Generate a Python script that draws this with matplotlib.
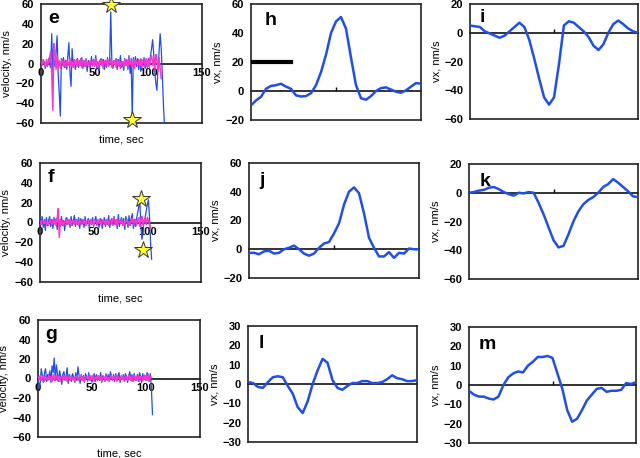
import matplotlib
matplotlib.use("Agg")
import matplotlib.pyplot as plt
import numpy as np

plt.rcParams['font.family'] = ['Liberation Sans', 'DejaVu Sans']
plt.rcParams['font.weight'] = 'bold'

BLUE = '#1f4fe6'
PINK = '#ff33cc'

# left column: velocity traces, one value per second
blue_e = [3, -2, 4, 1, -5, 2, -3, 5, -1, -4,
          30, -8, 5, -3, 10, 28, -10, -30, -53, 5,
          -2, 6, -4, 3, -6, 8, 21, -10, -23, 15,
          -3, 4, -6, 2, 5, -4, 3, -2, 6, -5,
          2, -3, 5, -8, 3, 1, -4, 7, -2, 4,
          -3, 8, -5, 2, -7, 3, 5, -2, 4, -6,
          3, -4, 6, -2, 4, 52, 2, -5, 3, -1,
          5, -6, 4, -3, 8, -4, 2, -7, 5, -2,
          4, -6, 8, -10, 5, -55, 6, -4, 7, -3,
          5, -6, 3, -8, 4, -3, 6, -5, 2, -4,
          5, -3, 8, 15, 24, 10, -8, -20, -27, -5,
          12, 30, 15, -10, -40, -62]
pink_e = [2, -1, 3, 0, -3, 4, -2, 1, 6, 12,
          -10, -47, 20, 12, -6, 8, -4, 3, -5, 2,
          4, -3, 2, -4, 3, 1, -2, 5, -3, 2,
          -4, 3, -1, 4, -3, 2, -2, 5, -4, 1,
          3, -3, 4, -2, 1, -4, 3, 2, -3, 4,
          -2, 5, -3, 1, -4, 3, -1, 4, -5, 2,
          3, -2, 4, -3, 1, 5, -4, 2, -1, 3,
          -4, 4, -2, 3, -5, 2, 1, -3, 4, -2,
          3, -4, 5, -1, 2, -3, 4, -5, 3, 1,
          -2, 4, -3, 5, -4, 2, 3, -2, 5, -3,
          3, -4, 6, 8, -2, 5, -6, 9, 4, -8,
          6, -5, -15]
stars_e_t = [65, 85]
stars_e_v = [59, -57]

blue_f = [4, -2, 6, -5, 3, -8, 5, -3, 2, 6,
          -4, 3, -6, 5, -2, 4, -7, 3, 1, -4,
          6, -3, 2, -8, 4, 5, -2, 3, -5, 6,
          -3, 2, 7, -4, 3, -2, 5, -6, 4, -1,
          3, -5, 6, -3, 2, 4, -6, 3, -2, 5,
          -4, 2, 6, -3, 1, -5, 4, 3, -6, 2,
          5, -4, 3, -2, 7, -5, 2, 4, -3, 6,
          -2, 3, -6, 8, -4, 2, 5, -3, 4, -7,
          6, 2, -5, 7, -3, 4, 9, -6, 3, -4,
          4, 10, 16, 20, -4, -17, -10, 2, 5, 12,
          18, 23, 6, -20, -37]
pink_f = [1, -2, 2, 0, -1, 3, -2, 1, -3, 2,
          1, -2, 3, -1, 2, -3, 4, 14, -15, 3,
          -2, 2, -3, 1, 3, -2, 2, -1, 3, -3,
          2, 1, -2, 3, -1, 2, -3, 2, 0, -2,
          3, -1, 2, -3, 1, 2, -2, 3, -1, 1,
          -3, 2, 1, -2, 3, -1, 2, -3, 1, 3,
          -2, 2, -1, 3, -3, 1, 2, -2, 3, 5,
          -2, 2, -3, 1, 2, -1, 3, -2, 1, -3,
          2, 3, -2, 1, -3, 2, 4, -2, 1, 3,
          -3, 2, 5, -4, 3, 6, -3, 2, 4, -2,
          5, 3, -3, -6]
stars_f_t = [94.5, 95.5]
stars_f_v = [24, -28]

blue_g = [2, -10, -5, 10, 3, -4, 6, 10, -3, 4,
          2, 8, -4, 13, 6, 21, -2, 14, 5, -3,
          8, 2, -6, 4, 7, -2, 3, 11, -5, 4,
          1, -3, 5, 2, -4, 6, -2, 12, 3, -5,
          4, -1, 3, -4, 5, 2, -3, 6, -2, 3,
          -4, 2, 5, -3, 4, -1, 3, -2, 6, -4,
          3, 1, -3, 5, -2, 4, -3, 7, 2, -1,
          4, -3, 5, -2, 3, 6, -4, 2, -1, 4,
          -3, 5, 2, -4, 3, 7, -2, 4, -3, 5,
          1, -2, 4, -3, 6, 2, -4, 5, -1, 3,
          -2, 6, 4, -3, 5, -10, -37]
pink_g = [2, -1, 3, -2, 1, 3, -3, 2, 0, -2,
          3, -1, 2, -3, 4, -2, 1, 3, -2, 2,
          -3, 1, 2, -2, 3, -1, 2, -3, 1, 2,
          -2, 3, -1, 1, -3, 2, 3, -2, 1, -1,
          3, -2, 2, -3, 1, 2, -1, 3, -2, 2,
          -1, 3, -3, 1, 2, -2, 3, -1, 2, -3,
          1, 2, -2, 3, -1, 1, -3, 2, 3, -2,
          2, -1, 3, -3, 2, 1, -2, 3, -1, 2,
          -3, 1, 2, -2, 3, -1, 2, -3, 1, 3,
          -2, 2, -1, 3, -3, 2, 1, -2, 4, -1,
          3, -2, 4, -3, 2, 1]

# middle / right columns: smoothed vx, 35 samples per panel
vx_h = [-10, -6.5, -4, 1.5, 3.5, 4, 5, 3, 1.5, -3, -3.8, -3.5, -1.5, 4, 13, 25, 40,
        48, 51, 43, 23, 4, -5, -6, -3.5, 0, 2, 2.5, 1, -0.5, -1.2, 0.5, 3, 5.5, 5]
vx_i = [5, 4.5, 4, 1, -0.5, -2, -3.5, -2, 1, 4, 7, 4, -5, -18, -32, -45, -50,
        -45, -22, 5, 8, 7, 4, 1, -3, -9, -12, -8, 0, 6, 8.5, 6, 3, 1, 0]
vx_j = [-2.5, -2.5, -3.5, -1.5, -1, -3, -2.5, 0, 1, 2.5, 0, -3, -4.5, -3, 1, 4, 5,
        11, 18, 31, 40, 43, 39, 25, 8, 1, -5, -5, -2, -6, -2.5, -3, 0.5, 0, 0]
vx_k = [0, 0.5, 1.5, 2, 3.5, 4, 2.5, 0.5, -1, -2, 0, -0.5, 0.5, 0, -7, -15, -24,
        -33, -38, -37, -29, -20, -13, -8, -5, -3, 0, 4, 6, 9.5, 7, 4, 1, -2.5, -3]
vx_l = [1, 0.5, -1.5, -2, 1, 3.5, 4, 3.5, -1, -5, -12, -15, -9, 0, 7, 13, 11,
        2, -2, -3, -1, 0.5, 0.5, 1.5, 1.5, 0.5, 0.5, 1, 2.5, 4.5, 3, 2.5, 1.5, 1.5, 2]
vx_m = [-3, -5, -6, -6, -7, -7.5, -6, 0, 4, 6, 7, 6.5, 10, 12, 14.5, 14.5, 15,
        14, 6, -2, -13, -19, -17.5, -13, -8, -5, -2, -1.5, -3.5, -3, -3, -2.5, 1, 0.5, 1.5]
scale_bar_x = [0, 8]
scale_bar_v = [20, 20]

fig = plt.figure(figsize=(6.4, 4.58), dpi=100)


def add_ax(l, t, r, b):
    return fig.add_axes([l / 640, 1 - b / 458, (r - l) / 640, (b - t) / 458])


def frame(ax, ylim, yticks, letter, lx, ly):
    ax.set_ylim(*ylim)
    ax.set_yticks(yticks)
    ax.set_xticks([])
    ax.tick_params(axis='y', length=0, pad=5, labelsize=8)
    for sp in ax.spines.values():
        sp.set_linewidth(1.2)
        sp.set_color('#222222')
    ax.text(lx, ly, letter, transform=ax.transAxes, fontsize=14,
            fontweight='bold', va='top', ha='left')
    # zero axis through the plot (Excel style)
    pos = (0 - ylim[0]) / (ylim[1] - ylim[0])
    sec = ax.secondary_xaxis(pos)
    sec.set_alignment('bottom')
    sec.spines['bottom'].set_linewidth(1.2)
    sec.spines['bottom'].set_color('#111111')
    return sec


# left column
left = [
    ((41, 4, 202, 123), blue_e, pink_e, (stars_e_t, stars_e_v), 'e'),
    ((40, 163, 201, 282), blue_f, pink_f, (stars_f_t, stars_f_v), 'f'),
    ((38, 320, 200, 437), blue_g, pink_g, None, 'g'),
]
for box, b, p, stars, letter in left:
    ax = add_ax(*box)
    ax.set_xlim(0, 150)
    ax.plot(np.arange(len(b)), b, color=BLUE, lw=0.9, zorder=3)
    ax.plot(np.arange(len(p)), p, color=PINK, lw=1.1, zorder=4)
    if stars:
        ax.plot(stars[0], stars[1], ls='none', marker='*', ms=13,
                mfc='#ffff33', mec='#333333', mew=0.7, clip_on=False, zorder=6)
    sec = frame(ax, (-60, 60), range(-60, 61, 20), letter, 0.045, 0.95)
    sec.set_xticks([0, 50, 100, 150])
    sec.tick_params(length=0, pad=3, labelsize=8)
    ax.set_ylabel('velocity, nm/s', fontsize=8, labelpad=2)
    ax.set_xlabel('time, sec', fontsize=8, labelpad=8)

# middle and right columns
panels = [
    ((251, 4, 421, 120), vx_h, (-20, 60), range(-20, 61, 20), 'h', 0.08, 0.93),
    ((470, 4, 638, 119), vx_i, (-60, 20), range(-60, 21, 20), 'i', 0.06, 0.96),
    ((249, 163, 419, 278), vx_j, (-20, 60), range(-20, 61, 20), 'j', 0.06, 0.92),
    ((469, 164, 638, 279), vx_k, (-60, 20), range(-60, 21, 20), 'k', 0.06, 0.92),
    ((248, 326, 417, 442), vx_l, (-30, 30), range(-30, 31, 10), 'l', 0.06, 0.92),
    ((469, 327, 636, 443), vx_m, (-30, 30), range(-30, 31, 10), 'm', 0.06, 0.92),
]
for box, v, ylim, yt, letter, lx, ly in panels:
    ax = add_ax(*box)
    x = np.arange(len(v))
    ax.set_xlim(0, len(v) - 1)
    ax.plot(x, v, color=BLUE, lw=1.8, zorder=3, solid_joinstyle='round')
    if letter == 'h':
        ax.plot(scale_bar_x, scale_bar_v, color='black', lw=3, zorder=4)
    sec = frame(ax, ylim, yt, letter, lx, ly)
    sec.set_xticks([(len(v) - 1) / 2])
    sec.tick_params(direction='in', length=3, width=1, labelbottom=False)
    ax.set_ylabel('vx, nm/s', fontsize=8, labelpad=2)

fig.savefig('out.png', dpi=100)
